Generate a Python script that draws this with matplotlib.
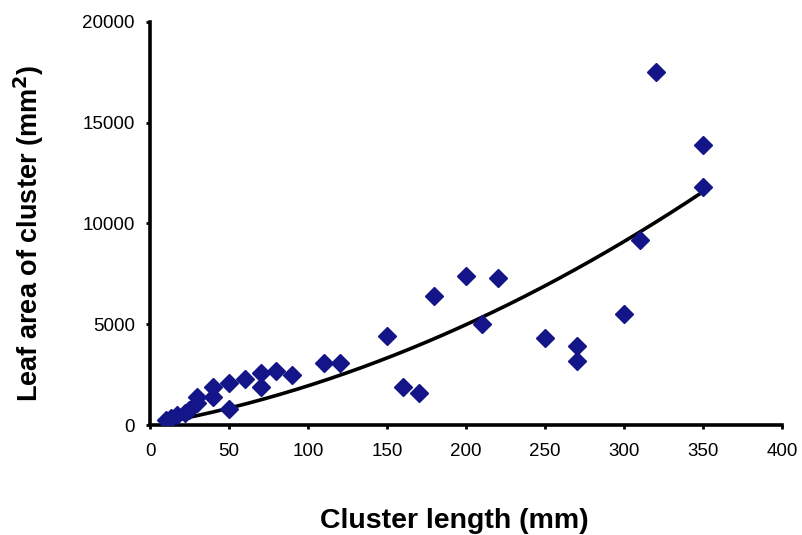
import numpy as np
import matplotlib
matplotlib.use("Agg")
import matplotlib.pyplot as plt

plt.rcParams['font.family'] = ['Liberation Sans', 'DejaVu Sans']

# Cluster length (mm) and leaf area of cluster (mm^2)
cluster_length = [10, 13, 17, 22, 25, 30, 30, 40, 40, 50, 50, 60, 70, 70, 80, 90,
                  110, 120, 150, 160, 170, 180, 200, 210, 220, 250, 270, 270,
                  300, 310, 320, 350, 350]
leaf_area = [250, 350, 500, 600, 750, 1100, 1400, 1400, 1900, 800, 2100, 2300,
             1900, 2600, 2700, 2500, 3100, 3100, 4400, 1900, 1600, 6400, 7400,
             5000, 7300, 4300, 3900, 3200, 5500, 9200, 17500, 13900, 11800]

# Second-order polynomial trend line: a*x^2 + b*x + c
trend_coeffs = [0.0545, 14.0, 0.0]
trend_range = [10, 352]

x_ticks = [0, 50, 100, 150, 200, 250, 300, 350, 400]
y_ticks = [0, 5000, 10000, 15000, 20000]

fig = plt.figure(figsize=(8.03, 5.35), dpi=100)
ax = fig.add_axes([0.1868, 0.2056, 0.7870, 0.7533])

xs = np.linspace(trend_range[0], trend_range[1], 200)
ax.plot(xs, np.polyval(trend_coeffs, xs), color='black', lw=2.6, zorder=2)
ax.plot(cluster_length, leaf_area, linestyle='none', marker='D',
        markersize=8.8, color='#15158a', zorder=3)

ax.set_xlim(0, 400)
ax.set_ylim(0, 20000)
ax.set_xticks(x_ticks)
ax.set_yticks(y_ticks)
ax.tick_params(axis='both', direction='out', length=3, width=2,
               labelsize=13.5, colors='black')
ax.tick_params(axis='x', pad=10)
ax.tick_params(axis='y', pad=8)

for side in ('top', 'right'):
    ax.spines[side].set_visible(False)
for side in ('left', 'bottom'):
    ax.spines[side].set_linewidth(2.6)

ax.set_xlabel('Cluster length (mm)', fontsize=20.5, fontweight='bold')
ax.xaxis.set_label_coords(0.481, -0.205)
ax.set_ylabel('Leaf area of cluster (mm$^\\mathbf{2}$)', fontsize=19.5,
              fontweight='bold')
ax.yaxis.set_label_coords(-0.165, 0.476)

fig.savefig('out.png', dpi=100, facecolor='white')
